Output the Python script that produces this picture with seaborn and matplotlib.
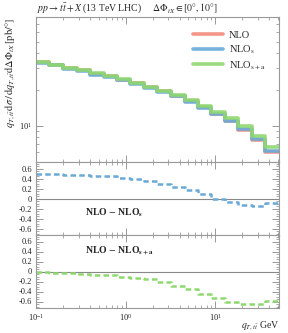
import numpy as np
import pandas as pd
import matplotlib
matplotlib.use("Agg")
import matplotlib.pyplot as plt
import matplotlib.ticker as mticker
import seaborn as sns

# bin edges in q_T,tt [GeV] (log bins, factor sqrt(2))
edges = [0.1, 0.141, 0.2, 0.283, 0.4, 0.566, 0.8, 1.13, 1.6, 2.26,
         3.2, 4.53, 6.4, 9.05, 12.8, 18.1, 25.6, 36.2, 51.2]

# NLO distribution [pb/deg]
nlo = [33.9, 32.2, 30.3, 28.9, 27.1, 25.7, 24.2, 22.7, 21.0, 19.4,
       17.8, 15.9, 14.2, 12.6, 10.9, 9.26, 7.64, 6.11]

# differences shown in the two lower panels
diff_s = [0.50, 0.49, 0.48, 0.47, 0.46, 0.45, 0.41, 0.39, 0.35, 0.30,
          0.23, 0.17, 0.10, 0.0, -0.07, -0.13, -0.14, -0.08]
diff_sa = [-0.01, -0.02, -0.03, -0.05, -0.06, -0.07, -0.10, -0.12, -0.15, -0.21,
           -0.28, -0.35, -0.44, -0.52, -0.60, -0.64, -0.65, -0.59]

labels = ["NLO", r"NLO$_{\rm s}$", r"NLO$_{\rm s+a}$"]
colors = ["#f28a7c", "#6aaad6", "#8ed870"]

nlo_s = [a - b for a, b in zip(nlo, diff_s)]
nlo_sa = [a - b for a, b in zip(nlo, diff_sa)]


def step_frame(vals, name):
    return pd.DataFrame({"x": edges, "y": list(vals) + [vals[-1]], "series": name})


sns.set_theme(style="ticks")
plt.rcParams["font.family"] = ["Liberation Serif", "DejaVu Serif"]
plt.rcParams["mathtext.fontset"] = "stix"
plt.rcParams["axes.edgecolor"] = "#999999"
plt.rcParams["axes.linewidth"] = 0.8

fig = plt.figure(figsize=(2.88, 3.33), dpi=100)
L, W = 36 / 288, (279 - 36) / 288
def fy(px):
    return 1 - px / 333
ax0 = fig.add_axes([L, fy(162), W, fy(17) - fy(162)])
ax1 = fig.add_axes([L, fy(235), W, fy(162) - fy(235)], sharex=ax0)
ax2 = fig.add_axes([L, fy(308), W, fy(235) - fy(308)], sharex=ax0)

main = pd.concat([step_frame(nlo, labels[0]),
                  step_frame(nlo_s, labels[1]),
                  step_frame(nlo_sa, labels[2])])
sns.lineplot(data=main, x="x", y="y", hue="series", palette=colors,
             hue_order=labels, drawstyle="steps-post", lw=2.6, alpha=0.9,
             estimator=None, sort=False, legend=False, ax=ax0)
ax0.set_xscale("log")
ax0.set_yscale("log")
ax0.set_xlim(0.1, 51.2)
ax0.set_ylim(5, 80)
ax0.yaxis.set_minor_formatter(mticker.NullFormatter())
ax0.set_xlabel("")
ax0.set_ylabel("")
fig.text(10 / 288, fy(18),
         r"$q_{T,t\bar{t}}\,\mathrm{d}\sigma\,/\,\mathrm{d}q_{T,t\bar{t}}\mathrm{d}\Delta\Phi_{tX}\,[\mathrm{pb}/°]$",
         fontsize=7.5, rotation=90, ha="center", va="top")
ax0.tick_params(labelbottom=False)
handles = ax0.get_lines()[:3]
ax0.legend(handles, labels, loc="upper right", frameon=False, fontsize=7.5,
           handlelength=2.8, handletextpad=0.6, labelspacing=0.35,
           borderaxespad=0.9)
fig.text(37 / 288, fy(9), r"$pp \rightarrow t\bar{t} + X$ (13 TeV LHC)     $\Delta\Phi_{tX} \in [0°, 10°]$",
         fontsize=7, ha="left", va="center")

for ax, vals, col, name, ty in [(ax1, diff_s, colors[1], r"NLO $-$ NLO$_{\mathbf{s}}$", 0.30),
                                (ax2, diff_sa, colors[2], r"NLO $-$ NLO$_{\mathbf{s+a}}$", 0.78)]:
    sns.lineplot(data=step_frame(vals, name), x="x", y="y", color=col,
                 drawstyle="steps-post", lw=1.8, dashes=False, estimator=None,
                 sort=False, ax=ax)
    ax.get_lines()[-1].set_linestyle((0, (2.2, 1.3)))
    ax.axhline(0, color="#888888", lw=0.8, zorder=0)
    ax.set_ylim(-0.73, 0.73)
    ax.yaxis.set_major_locator(mticker.FixedLocator([-0.6, -0.4, -0.2, 0, 0.2, 0.4, 0.6]))
    ax.yaxis.set_major_formatter(mticker.FixedFormatter(["-0.6", "-0.4", "-0.2", "0", "0.2", "0.4", "0.6"]))
    ax.yaxis.set_minor_locator(mticker.MultipleLocator(0.05))
    ax.set_xlabel("")
    ax.set_ylabel("")
    ax.text(0.2, ty, name, transform=ax.transAxes,
            fontsize=7, fontweight="bold", ha="left", va="center")

ax1.tick_params(labelbottom=False)
ax2.set_xlabel("")
fig.text(279 / 288, fy(326), r"$q_{T,t\bar{t}}$ GeV", fontsize=7, ha="right", va="center")

for ax in (ax0, ax1, ax2):
    ax.tick_params(which="both", direction="in", top=True, right=True,
                   color="#888888", labelsize=6, labelcolor="#222222", pad=3)
    ax.tick_params(which="major", length=5, width=0.6)
    ax.tick_params(which="minor", length=2.5, width=0.5)
    for s in ax.spines.values():
        s.set_color("#999999")

ax2.xaxis.set_major_locator(mticker.LogLocator(base=10))
ax2.xaxis.set_minor_locator(mticker.LogLocator(base=10, subs=np.arange(2, 10)))
ax2.xaxis.set_minor_formatter(mticker.NullFormatter())

fig.savefig("out.png", dpi=100)
